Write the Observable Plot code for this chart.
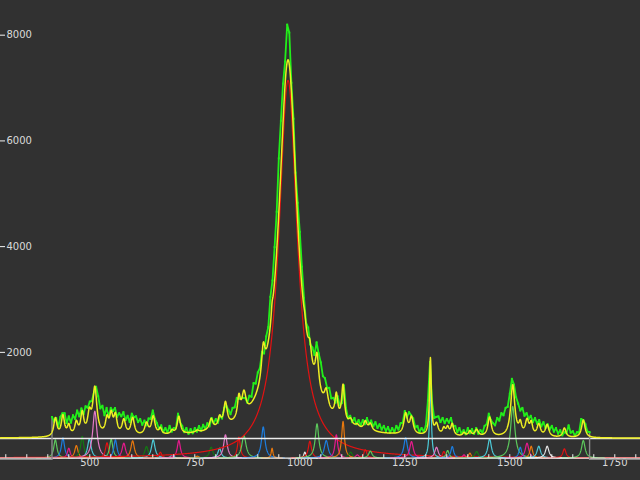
<!DOCTYPE html>
<html><head><meta charset="utf-8">
<script src="https://cdn.jsdelivr.net/npm/d3@7"></script>
<script src="https://cdn.jsdelivr.net/npm/@observablehq/plot@0.6"></script>
<style>html,body{margin:0;padding:0;background:#313131;overflow:hidden}</style>
</head><body><div id="chart"></div>
<script>
// ---- data ----
const baselineLevel = 370;
const peakCenter = [418,436,450,468,482,499,512,541,551,561,581,602,635,651,668,696,712,756,789,809,823,855,867,913,934,972,1012,1024,1041,1063,1087,1103,1121,1137,1156,1168,1252,1266,1311,1325.5,1343,1352,1363,1391,1405,1421,1452,1507,1525,1541,1551,1569,1589,1630,1675];
const peakHeight = [346,384,187,238,409,365,887,289,358,346,282,327,219,346,112,68,333,36,206,187,441,396,428,590,187,7145,112,320,649,333,441,695,112,60,157,131,384,314,1450,206,125,144,219,62,93,125,365,976,206,282,225,225,225,176,333];
const peakHwhm = [4.5,4.5,4,4.5,4.5,5,6,4.5,4.5,4.5,5,5,5,5,4,4,4.5,5,5,4.5,5,4,6,5,2.5,26.6,3,4.5,5,5.5,4,4,5,5,4.5,5,5,5,2.5,5,4,4,4,4,4,5,5,6,4,5,4,5,5,4.5,5];
const peakColor = ["lg","bl","mg","or","dg","cy","pk","rd","lg","bl","mg","or","dg","cy","rd","cy","mg","or","dg","cy","pk","rd","lg","bl","or","rd","wh","rd","lg","bl","mg","or","dg","mg","rd","lg","bl","mg","cy","pk","rd","lg","bl","mg","or","dg","cy","lg","bl","mg","or","cy","wh","rd","lg"];
const palette = {lg:"#5cc85c", bl:"#1c7ee0", mg:"#e61a8c", or:"#e8780e", dg:"#127a12", cy:"#4ccad8", pk:"#e47ac8", rd:"#e21212", wh:"#e6e6e6"};

// measured spectrum, first point at 410 then every 5 units up to 1690
const dataStart = 410, dataStep = 5;
const dataY = [
  780,690,760,590,780,850,850,660,790,670,
  810,740,900,790,940,830,980,950,1070,1080,
  1250,1350,1170,940,990,810,950,780,950,890,
  950,780,850,790,870,720,800,680,840,770,
  790,680,740,630,710,620,750,740,900,740,
  660,550,620,490,570,480,610,500,570,560,
  840,680,610,490,570,460,550,470,570,500,
  610,520,630,550,660,600,760,660,740,670,
  800,750,950,990,910,830,950,960,1140,1120,
  1140,1140,1140,1050,1180,1160,1420,1410,1620,1700,
  2010,1980,2300,2480,3050,3360,3990,4660,5670,6380,
  7080,7500,8200,8050,7100,6420,5400,4830,4280,3620,
  3030,2560,2470,2150,2090,1950,2190,1980,1810,1550,
  1510,1330,1330,1130,1140,1050,1170,1000,1040,1375,
  950,750,800,680,760,640,720,620,720,640,
  760,640,710,600,680,570,640,540,610,510,
  590,480,570,490,610,540,660,670,890,770,
  870,810,750,580,610,490,570,500,610,1090,
  1820,1060,760,780,790,680,760,660,740,670,
  760,600,610,490,570,460,530,450,570,470,
  550,460,570,460,530,480,610,640,840,720,
  660,620,760,710,850,810,950,970,1220,1500,
  1390,1150,1030,900,950,800,850,740,800,680,
  760,650,720,600,680,570,640,540,610,500,
  570,460,530,430,490,470,620,480,510,420,
  490,480,740,720,640,500,490
];
const inactiveX = [280,410,410,1690,1690,1820];
const inactiveY = [-25,-25,780,490,-25,-25];
const inactiveSeg = [0,0,0,1,1,1];

const yTicks = [2000,4000,6000,8000];
const xLabels = [500,750,1000,1250,1500,1750];
const xMinor = d3.range(300, 1801, 50);

// ---- model curves from the peak parameters ----
const lor = (x, i) => peakHeight[i] / (1 + ((x - peakCenter[i]) / peakHwhm[i]) ** 2);
const xmin = 287.4, xmax = 1811.2;
const compRows = [];
peakCenter.forEach((c, i) => {
  const w = peakHwhm[i];
  const lo = i === 25 ? xmin : c - 10 * w, hi = i === 25 ? xmax : c + 10 * w;
  const step = Math.min(0.5, w / 6);
  for (let x = lo; x <= hi; x += step) compRows.push({x, v: lor(x, i), id: i, col: palette[peakColor[i]]});
});
const fitRows = [];
for (let x = xmin; x <= xmax; x += 0.4) {
  let s = baselineLevel;
  for (let i = 0; i < peakCenter.length; i++) s += lor(x, i);
  fitRows.push({x, v: s});
}
const dataRows = dataY.map((v, i) => ({x: dataStart + i * dataStep, v}));
const inactiveRows = inactiveX.map((x, i) => ({x, v: inactiveY[i], s: inactiveSeg[i]}));

const chart = Plot.plot({
  width: 640, height: 480,
  marginTop: 0, marginBottom: 22.4, marginLeft: 0, marginRight: 0,
  style: {background: "#313131", fontFamily: "DejaVu Sans", fontSize: "10px", overflow: "visible"},
  x: {domain: [xmin, xmax], axis: null},
  y: {domain: [0, 8656], axis: null},
  color: {type: "identity"},
  marks: [
    Plot.line(compRows, {x: "x", y: "v", z: "id", stroke: "col", strokeWidth: 1.2}),
    Plot.ruleY([baselineLevel], {stroke: "#ececec", strokeWidth: 1.6}),
    Plot.ruleY([0], {stroke: "#f4f4f4", strokeWidth: 1.4}),
    Plot.ruleX(xMinor, {stroke: "#f4f4f4", insetTop: 454.2, strokeWidth: 1}),
    Plot.ruleY(yTicks, {stroke: "#f4f4f4", insetRight: 635, strokeWidth: 1}),
    Plot.text(yTicks, {y: d => d, frameAnchor: "left", dx: 6, textAnchor: "start", text: d => String(d), fill: "#dadada"}),
    Plot.text(xLabels, {x: d => d, frameAnchor: "bottom", dy: 8.2, text: d => String(d), fill: "#dadada"}),
    Plot.line(inactiveRows, {x: "x", y: "v", z: "s", stroke: "#8a8a8a", strokeWidth: 1.4}),
    Plot.line(dataRows, {x: "x", y: "v", stroke: "#22ee1a", strokeWidth: 1.8}),
    Plot.dot(dataRows, {x: "x", y: "v", fill: "#22ee1a", symbol: "square", r: 1.1}),
    Plot.line(fitRows, {x: "x", y: "v", stroke: "#eeee22", strokeWidth: 1.5})
  ]
});
document.getElementById("chart").append(chart);
</script></body></html>
